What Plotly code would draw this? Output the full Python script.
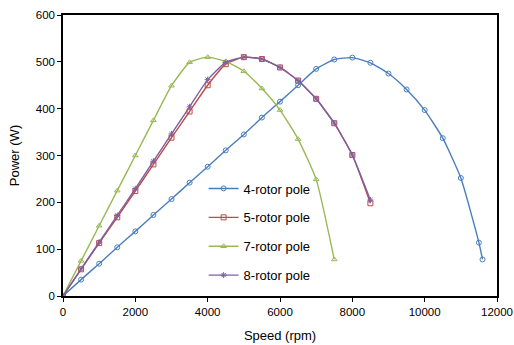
import plotly.graph_objects as go

speed_4 = [0, 500, 1000, 1500, 2000, 2500, 3000, 3500, 4000, 4500, 5000, 5500, 6000,
           6500, 7000, 7500, 8000, 8500, 9000, 9500, 10000, 10500, 11000, 11500, 11600]
power_4 = [0, 35, 69, 104, 138, 173, 207, 242, 276, 311, 345, 381, 415,
           450, 485, 505, 509, 498, 475, 441, 397, 337, 252, 114, 78]

speed_5 = [0, 500, 1000, 1500, 2000, 2500, 3000, 3500, 4000, 4500, 5000, 5500, 6000,
           6500, 7000, 7500, 8000, 8500]
power_5 = [0, 57, 113, 168, 224, 281, 338, 394, 450, 495, 510, 506, 488,
           460, 421, 369, 301, 198]

speed_7 = [0, 500, 1000, 1500, 2000, 2500, 3000, 3500, 4000, 4500, 5000, 5500, 6000,
           6500, 7000, 7500]
power_7 = [0, 75, 150, 225, 300, 375, 449, 499, 510, 501, 480, 443, 397,
           335, 249, 78]

speed_8 = [0, 500, 1000, 1500, 2000, 2500, 3000, 3500, 4000, 4500, 5000, 5500, 6000,
           6500, 7000, 7500, 8000, 8500]
power_8 = [0, 58, 115, 172, 229, 288, 346, 404, 462, 499, 510, 506, 488,
           460, 421, 369, 301, 205]

series = [
    ("4-rotor pole", speed_4, power_4, "#4A7EBB", "circle-open"),
    ("5-rotor pole", speed_5, power_5, "#BE4B48", "square-open"),
    ("7-rotor pole", speed_7, power_7, "#98B954", "triangle-up-open"),
    ("8-rotor pole", speed_8, power_8, "#7D60A0", "asterisk-open"),
]

FONT = "Liberation Sans, Arial, sans-serif"

fig = go.Figure()
for name, xs, ys, color, sym in series:
    fig.add_trace(go.Scatter(
        x=xs, y=ys, name=name, mode="lines+markers", legendgroup=name,
        line=dict(color=color, width=1.4, shape="spline", smoothing=0.5),
        marker=dict(symbol=sym, size=5, color=color, line=dict(width=1, color=color)),
    ))

fig.update_layout(
    width=514, height=345,
    margin=dict(l=63, r=17, t=15, b=49),
    paper_bgcolor="white", plot_bgcolor="white",
    font=dict(family=FONT, size=11.5, color="#000000"),
    showlegend=True,
    legend=dict(
        x=0.324, y=0.436, xanchor="left", yanchor="top",
        bgcolor="rgba(0,0,0,0)", font=dict(family=FONT, size=13, color="#000000"),
        tracegroupgap=9, traceorder="grouped",
    ),
)
fig.update_xaxes(
    range=[0, 12000], tickvals=[0, 2000, 4000, 6000, 8000, 10000, 12000],
    ticktext=["0", "2000", "4000", "6000", "8000", "10000", "12000"],
    showgrid=False, zeroline=False, automargin=False,
    showline=True, linecolor="#000000", linewidth=1.5, mirror=True,
    ticks="outside", ticklen=4, tickcolor="#000000",
    title=dict(text="Speed (rpm)", font=dict(family=FONT, size=13), standoff=14),
)
fig.update_yaxes(
    range=[0, 600], tickvals=[0, 100, 200, 300, 400, 500, 600],
    showgrid=False, zeroline=False, automargin=False,
    showline=True, linecolor="#000000", linewidth=1.5, mirror=True,
    ticks="outside", ticklen=4, tickcolor="#000000",
    title=dict(text="Power (W)", font=dict(family=FONT, size=13), standoff=13),
)

fig.write_html("out.html", config={"displayModeBar": False},
               post_script="document.body.style.margin='0';")
